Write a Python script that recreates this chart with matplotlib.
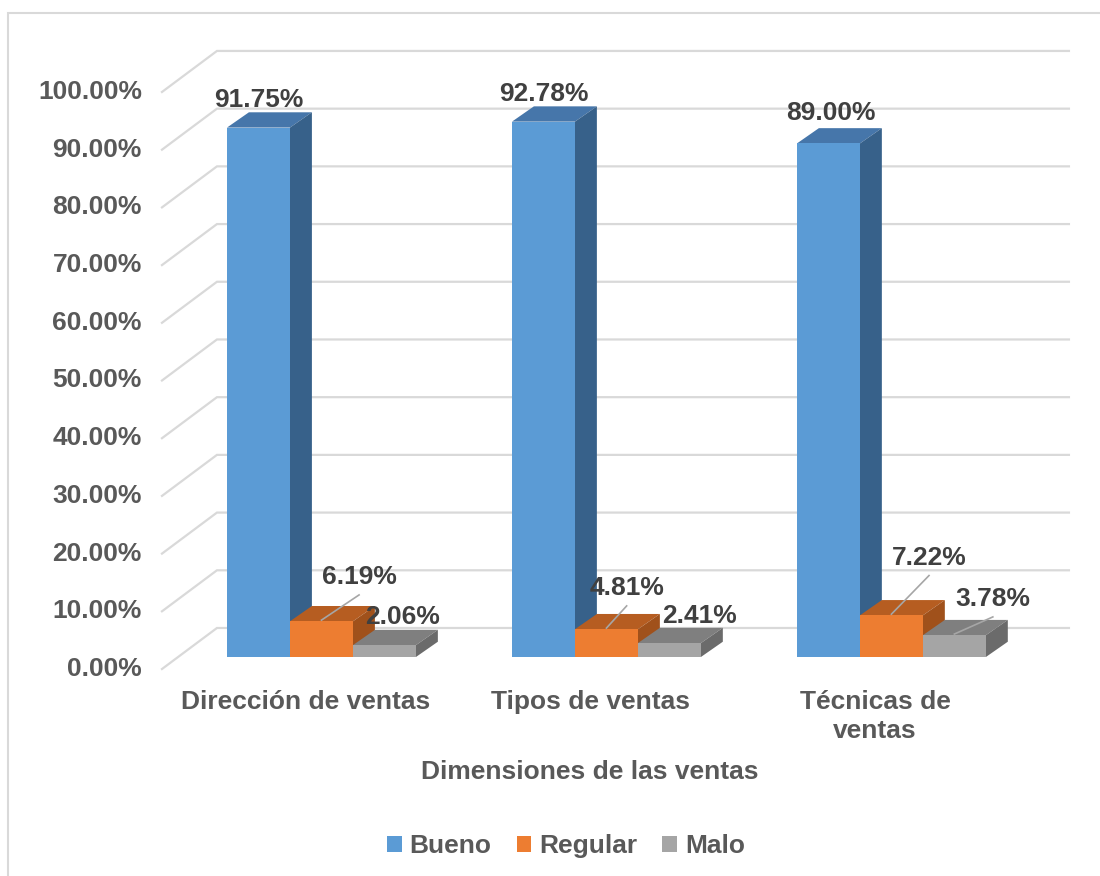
import matplotlib
matplotlib.use("Agg")
import matplotlib.pyplot as plt
from matplotlib.patches import Polygon, Rectangle, Patch

plt.rcParams['font.family'] = ['Liberation Sans', 'DejaVu Sans']

categories = ["Dirección de ventas", "Tipos de ventas", "Técnicas de\nventas"]
series = ["Bueno", "Regular", "Malo"]
bueno = [91.75, 92.78, 89.00]
regular = [6.19, 4.81, 7.22]
malo = [2.06, 2.41, 3.78]
yticks = [0, 10, 20, 30, 40, 50, 60, 70, 80, 90, 100]

values = [bueno, regular, malo]
front = ["#5B9BD5", "#ED7D31", "#A5A5A5"]
top = ["#4676AA", "#B65D21", "#7F7F7F"]
side = ["#37618A", "#A0511B", "#6B6B6B"]

# layout (data units: x = category, y = percent)
bw = 0.221                    # bar width
bdx, bdy = 0.077, 2.65        # bar depth offset
wall_front = (-0.5596, -2.08)
wall_back = (-0.3667, 5.03)
wall_right = 2.623
# label offsets (dx, dy) from bar front centre, and whether a leader line is drawn
lab_off = [
    [(0.0, 4.8), (0.0, 4.8), (0.01, 5.3)],
    [(0.132, 7.67), (0.071, 7.15), (0.132, 10.0)],
    [(0.065, 4.8), (0.107, 4.7), (0.135, 6.27)],
]
leader = [[False] * 3, [True, True, True], [False, False, True]]

fig = plt.figure(figsize=(11, 8.76), dpi=100)
ax = fig.add_axes([0, 0, 1, 1])
ax.set_xlim(-1.128, 2.732)
ax.set_ylim(-37.95, 113.86)
ax.axis("off")

grid_c = "#D9D9D9"
for t in yticks:
    fx, fy = wall_front[0], t + wall_front[1]
    bx, by = wall_back[0], t + wall_back[1]
    ax.plot([fx, bx, wall_right], [fy, by, by], color=grid_c, lw=1.6, zorder=1,
            solid_joinstyle="miter")
    ax.text(-0.63, fy, f"{t:.2f}%", ha="right", va="center", fontsize=19,
            fontweight="bold", color="#595959")

for g in range(len(categories)):
    for s in range(len(series)):
        v = values[s][g]
        x0 = g + (s - 1.5) * bw
        x1 = x0 + bw
        ax.add_patch(Polygon([(x0, v), (x1, v), (x1 + bdx, v + bdy), (x0 + bdx, v + bdy)],
                             closed=True, fc=top[s], ec="none", zorder=3))
        ax.add_patch(Polygon([(x1, 0), (x1 + bdx, bdy), (x1 + bdx, v + bdy), (x1, v)],
                             closed=True, fc=side[s], ec="none", zorder=3))
        ax.add_patch(Rectangle((x0, 0), bw, v, fc=front[s], ec="none", zorder=3))

for g in range(len(categories)):
    for s in range(len(series)):
        v = values[s][g]
        cx = g + (s - 1) * bw
        lx, ly = cx + lab_off[s][g][0], v + lab_off[s][g][1]
        if leader[s][g]:
            ax.plot([cx, lx], [v + 0.2, ly - 3.1], color="#A6A6A6", lw=1.2, zorder=4)
        ax.text(lx, ly, f"{v:.2f}%", ha="center", va="center", fontsize=19,
                fontweight="bold", color="#404040", zorder=5)
    ax.text(g - 0.057, -5.75, categories[g], ha="center", va="top", fontsize=19,
            fontweight="bold", color="#595959", linespacing=1.25)

ax.text(0.942, -20.0, "Dimensiones de las ventas", ha="center", va="center",
        fontsize=19, fontweight="bold", color="#595959")

handles = [Patch(fc=c, ec="none") for c in front]
leg = fig.legend(handles, series, loc="center", bbox_to_anchor=(566 / 1100, 1 - 846 / 876),
                 ncol=3, frameon=False, handlelength=0.55, handleheight=0.55,
                 handletextpad=0.3, columnspacing=0.95,
                 prop={"size": 19, "weight": "bold"})
for t in leg.get_texts():
    t.set_color("#595959")

fig.patches.append(Rectangle((8 / 1100, -0.1), 1.2, (876 - 13) / 876 + 0.1,
                             transform=fig.transFigure, fill=False,
                             ec="#D9D9D9", lw=1.5))

fig.savefig("out.png", dpi=100, facecolor="white")
